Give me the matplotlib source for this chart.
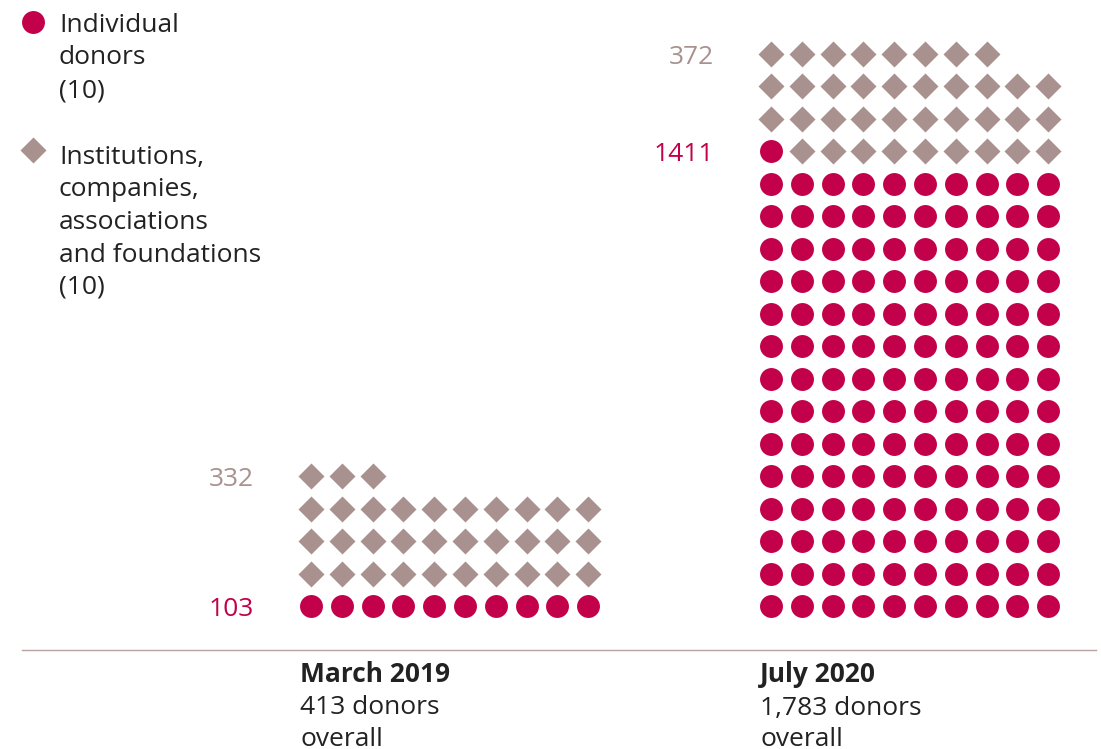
import matplotlib
matplotlib.use("Agg")
import matplotlib.pyplot as plt

# ---- data ----
categories = ["March 2019", "July 2020"]
individual = [103, 1411]
institutions = [332, 372]
totals = ["413", "1,783"]
unit = 10
legend_labels = [["Individual", "donors", "(10)"],
                 ["Institutions,", "companies,", "associations",
                  "and foundations", "(10)"]]

# ---- style ----
RED = "#C3004A"
GREY = "#A8918E"
TEXT = "#222222"
LINE = "#B9A2A2"
FONT = "Open Sans"
plt.rcParams["font.family"] = [FONT, "DejaVu Sans"]
FS = 19

W, H = 1101, 749
fig = plt.figure(figsize=(W / 100, H / 100), dpi=100)
ax = fig.add_axes([0, 0, 1, 1])
ax.set_xlim(0, W)
ax.set_ylim(H, 0)
ax.axis("off")

cols = 10
dx, dy = 30.8, 32.5
y0 = 606
x_starts = [311, 771]
circle_ms = 16.5
diamond_ms = 13.6
LS = 32.5  # line step in px

for ci, cat in enumerate(categories):
    n_ind = round(individual[ci] / unit)
    n_ins = round(institutions[ci] / unit)
    x0 = x_starts[ci]
    cx, cy, dxs, dys = [], [], [], []
    for k in range(n_ind + n_ins):
        r, c = divmod(k, cols)
        x = x0 + c * dx
        y = y0 - r * dy
        if k < n_ind:
            cx.append(x); cy.append(y)
        else:
            dxs.append(x); dys.append(y)
    ax.plot(cx, cy, "o", ms=circle_ms, color=RED, mec="none")
    ax.plot(dxs, dys, "D", ms=diamond_ms, color=GREY, mec="none")
    # value labels
    ax.text(x0 - 57, cy[-1] + 10, str(individual[ci]), color=RED, fontsize=FS,
            ha="right", va="baseline")
    ax.text(x0 - 57, dys[-1] + 10, str(institutions[ci]), color=GREY, fontsize=FS,
            ha="right", va="baseline")
    # bottom labels
    ax.text(x0 - 11, 682, cat, color=TEXT, fontsize=FS, fontweight="bold",
            ha="left", va="baseline")
    for li, line in enumerate([f"{totals[ci]} donors", "overall"]):
        ax.text(x0 - 11, 682 + (li + 1) * LS - (1 if li else 0), line,
                color=TEXT, fontsize=FS, ha="left", va="baseline")

# baseline
ax.plot([22, 1096], [650, 650], color=LINE, lw=1)

# legend
ax.plot([33], [22], "o", ms=circle_ms, color=RED, mec="none")
ax.plot([33], [150], "D", ms=diamond_ms, color=GREY, mec="none")
for gi, (lines, yb) in enumerate(zip(legend_labels, [32, 164])):
    for li, line in enumerate(lines):
        ax.text(59, yb + li * LS, line, color=TEXT, fontsize=FS, ha="left",
                va="baseline")

fig.savefig("out.png", dpi=100)
